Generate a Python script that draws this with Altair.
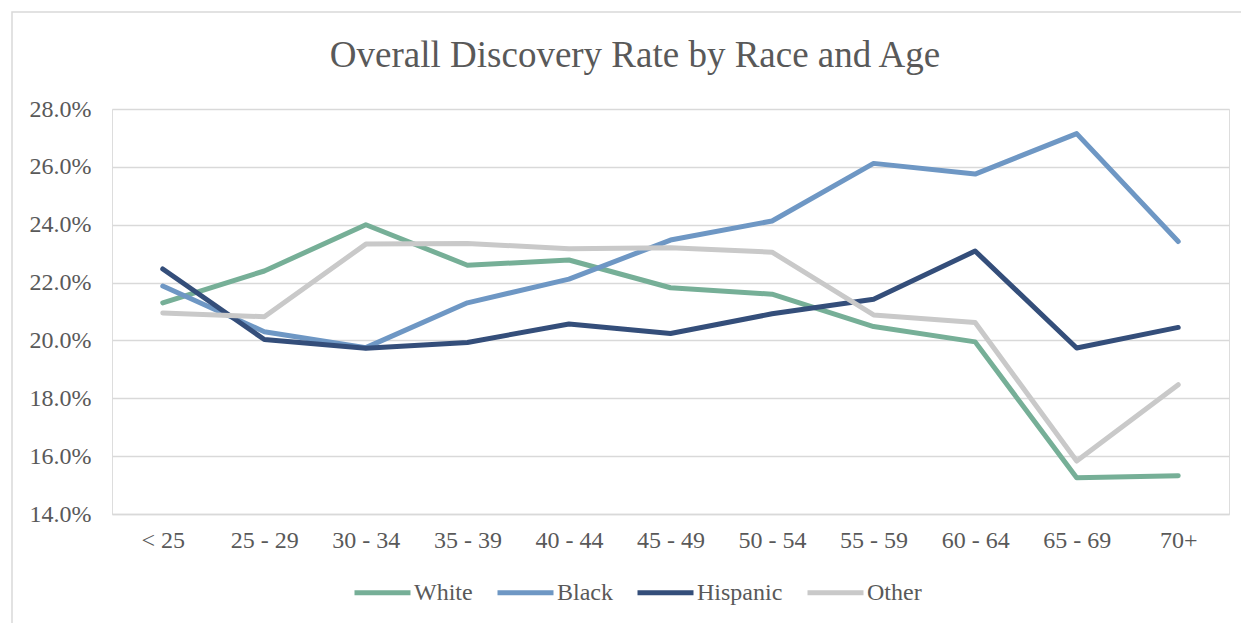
import altair as alt
import pandas as pd

ages = ["< 25", "25 - 29", "30 - 34", "35 - 39", "40 - 44", "45 - 49",
        "50 - 54", "55 - 59", "60 - 64", "65 - 69", "70+"]
series = ["White", "Black", "Hispanic", "Other"]
white = [21.30, 22.40, 24.00, 22.60, 22.78, 21.82, 21.60, 20.48, 19.95, 15.25, 15.32]
black = [21.88, 20.30, 19.75, 21.30, 22.12, 23.47, 24.13, 26.12, 25.75, 27.15, 23.42]
hispanic = [22.47, 20.03, 19.73, 19.93, 20.57, 20.24, 20.92, 21.42, 23.09, 19.74, 20.45]
other = [20.95, 20.82, 23.33, 23.35, 23.17, 23.20, 23.05, 20.88, 20.62, 15.83, 18.47]
colors = ["#76AF97", "#6E97C4", "#344E7A", "#C9C9C9"]
y_ticks = [0.14, 0.16, 0.18, 0.20, 0.22, 0.24, 0.26, 0.28]
title_text = ["Overall Discovery Rate by Race and Age"]

values = {"White": white, "Black": black, "Hispanic": hispanic, "Other": other}
rows = []
for s in series:
    for a, v in zip(ages, values[s]):
        rows.append({"Age": a, "Race": s, "Rate": v / 100.0})
df = pd.DataFrame(rows)

FONT = "Liberation Serif"
TXT = "#595959"

base = alt.Chart(df)
color = alt.Color(
    "Race:N",
    scale=alt.Scale(domain=series, range=colors),
    legend=alt.Legend(
        title=None, orient="none", direction="horizontal", columns=4,
        legendX=240, legendY=453,
        symbolType="stroke", symbolSize=3136, symbolStrokeWidth=5,
        labelFont=FONT, labelFontSize=24, labelColor=TXT,
        labelOffset=1, columnPadding=14, symbolOpacity=1,
    ),
)

layers = []
frame = alt.Chart(pd.DataFrame({"k": [0]})).mark_rect(
    fillOpacity=0, stroke="#D9D9D9", strokeWidth=1.5
).encode(x=alt.value(-100), x2=alt.value(1150), y=alt.value(-97), y2=alt.value(525))
layers.append(frame)

title = alt.Chart(pd.DataFrame({"t": title_text})).mark_text(
    font=FONT, fontSize=37, color=TXT, align="center", baseline="alphabetic"
).encode(text="t:N", x=alt.value(523), y=alt.value(-42))
layers.append(title)

for s in series:
    layers.append(
        base.transform_filter(alt.datum.Race == s).mark_line(
            strokeWidth=5, strokeCap="round", strokeJoin="round"
        ).encode(
            x=alt.X("Age:N", sort=ages, scale=alt.Scale(type="point", padding=0.5),
                    axis=alt.Axis(title=None, labelAngle=0, ticks=False, grid=False,
                                  domain=True, domainColor="#D9D9D9", domainWidth=1.5,
                                  labelFont=FONT, labelFontSize=24, labelColor=TXT,
                                  labelPadding=14)),
            y=alt.Y("Rate:Q", scale=alt.Scale(domain=[0.14, 0.28], nice=False, zero=False),
                    axis=alt.Axis(title=None, values=y_ticks, format=".1%", ticks=False,
                                  domain=False, grid=True, gridColor="#D9D9D9", gridWidth=1.5,
                                  labelFont=FONT, labelFontSize=24, labelColor=TXT,
                                  labelPadding=21)),
            color=color,
        )
    )

chart = alt.layer(*layers).properties(
    width=1117, height=405,
    autosize="none",
    padding={"left": 104, "top": 101, "right": 12, "bottom": 110},
).configure_view(stroke=None).configure(background="white")

chart.save("out.html", embed_options={"renderer": "svg", "actions": False})
